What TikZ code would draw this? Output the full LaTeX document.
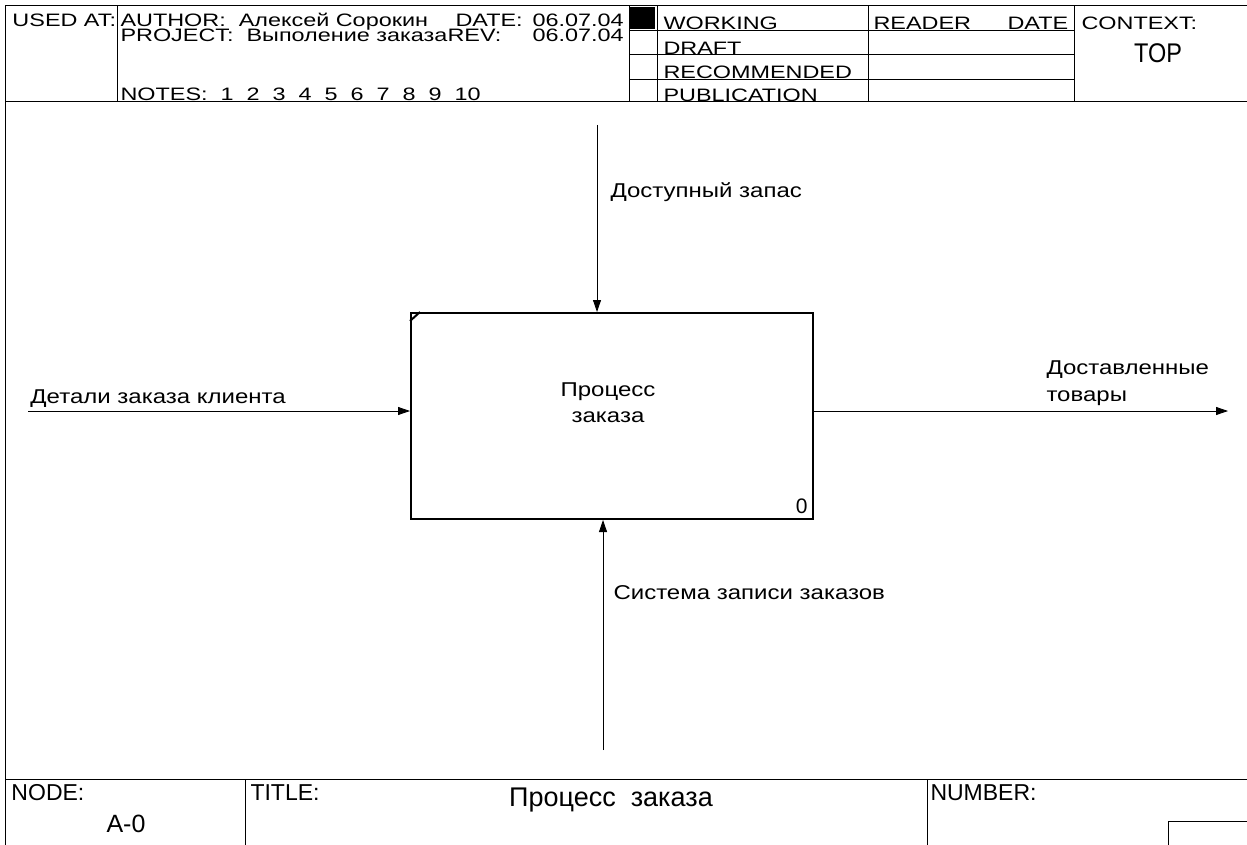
\documentclass[tikz,border=0pt]{standalone}
\usepackage{fontspec}
\setmainfont{Liberation Sans}
\newfontfamily\hdrfont[FakeStretch=1.3]{Liberation Sans}
\newfontfamily\lblfont[FakeStretch=1.2]{Liberation Sans}
\newfontfamily\bigfont{Liberation Sans}
\newfontfamily\ctxfont[FakeStretch=0.87]{Liberation Sans}
\usetikzlibrary{arrows.meta, positioning}
\tikzset{
  every picture/.style={x=1pt, y=-1pt, line width=1pt},
  frame/.style={draw=black, line width=1pt},
  hdr/.style={anchor=base west, inner sep=0pt, font=\hdrfont\fontsize{18}{18}\selectfont},
  lbl/.style={anchor=base west, inner sep=0pt, font=\lblfont\fontsize{20}{20}\selectfont},
  bigtxt/.style={anchor=base, inner sep=0pt, font=\bigfont\fontsize{#1}{#1}\selectfont},
  flow/.style={-{Triangle[length=12pt, width=8pt]}, line width=0.8pt},
  activity/.style={draw, line width=2pt, minimum width=402pt, minimum height=206pt, inner sep=0pt},
}
\begin{document}
\begin{tikzpicture}
  \useasboundingbox (0,0) rectangle (1247,845);
  % header frame
  \draw[frame] (1247,6) -- (5,6) -- (5,845);
  \draw[frame] (5,102) -- (1247,102);
  \foreach \x in {117,629,657,868,1074} {
    \draw[frame] (\x,6) -- (\x,102);
  }
  \foreach \y in {31,55,80} {
    \draw[frame] (629,\y) -- (1074,\y);
  }
  \fill (630,7) rectangle (655,29);
  % header texts
  \node[hdr] (usedat) at (12,27) {USED AT:};
  \node[hdr] (author) at (120,27) {AUTHOR:\ \ Алексей\ Сорокин};
  \node[hdr] (date) at (455,27) {DATE:};
  \node[hdr] (dateval) at (532,27) {06.07.04};
  \node[hdr] (project) at (120,42) {PROJECT:\ \ Выполение заказа};
  \node[hdr] (rev) at (447,42) {REV:};
  \node[hdr] (revval) at (532,42) {06.07.04};
  \node[hdr] (notes) at (120,101) {NOTES:\ \ 1\ \ 2\ \ 3\ \ 4\ \ 5\ \ 6\ \ 7\ \ 8\ \ 9\ \ 10};
  \node[hdr] (working) at (663,30) {WORKING};
  \node[hdr] (draft) at (663,55) {DRAFT};
  \node[hdr] (recommended) at (663,79) {RECOMMENDED};
  \node[hdr] (publication) at (663,102) {PUBLICATION};
  \node[hdr] (reader) at (873,30) {READER};
  \node[hdr] (rdate) at (1007,30) {DATE};
  \node[hdr] (context) at (1081,30) {CONTEXT:};
  \node[anchor=base, inner sep=0pt, font=\ctxfont\fontsize{27}{27}\selectfont] (top) at (1158,63) {TOP};
  % activity box
  \node[activity] (act) at (612,416) {};
  \draw[line width=2pt] ([yshift=-9pt]act.north west) -- ([xshift=10pt]act.north west);
  \node[lbl, anchor=base] (actname1) at (608,396) {Процесс};
  \node[lbl, anchor=base] (actname2) at (608,422) {заказа};
  \node[bigtxt=21, anchor=base east] (actnum) at (808,513) {0};
  % arrows
  \coordinate (ctrlin) at (597,125);
  \coordinate (mechin) at (603,750);
  \coordinate (inpt) at (28,411);
  \coordinate (outpt) at (1228,411);
  \draw[flow] (ctrlin) -- (ctrlin |- act.north);
  \draw[flow] (mechin) -- (mechin |- act.south);
  \draw[flow] (inpt) -- (inpt -| act.west);
  \draw[flow] (act.east |- outpt) -- (outpt);
  \node[lbl] (ctrllbl) at (610,197) {Доступный запас};
  \node[lbl] (inlbl) at (30,403) {Детали заказа клиента};
  \node[lbl] (outlbl1) at (1046,374) {Доставленные};
  \node[lbl] (outlbl2) at (1046,401) {товары};
  \node[lbl] (mechlbl) at (613,599) {Система записи заказов};
  % footer
  \draw[frame] (5,779) -- (1247,779);
  \draw[frame] (245,779) -- (245,845);
  \draw[frame] (927,779) -- (927,845);
  \draw[frame] (1247,821) -- (1168,821) -- (1168,845);
  \node[bigtxt=23, anchor=base west] (nodelbl) at (11,800) {NODE:};
  \node[bigtxt=25] (nodeval) at (126,832) {A-0};
  \node[bigtxt=23, anchor=base west] (titlelbl) at (250,800) {TITLE:};
  \node[bigtxt=27] (titleval) at (611,806) {Процесс\ \ заказа};
  \node[bigtxt=23, anchor=base west] (numlbl) at (930,800) {NUMBER:};
\end{tikzpicture}
\end{document}
